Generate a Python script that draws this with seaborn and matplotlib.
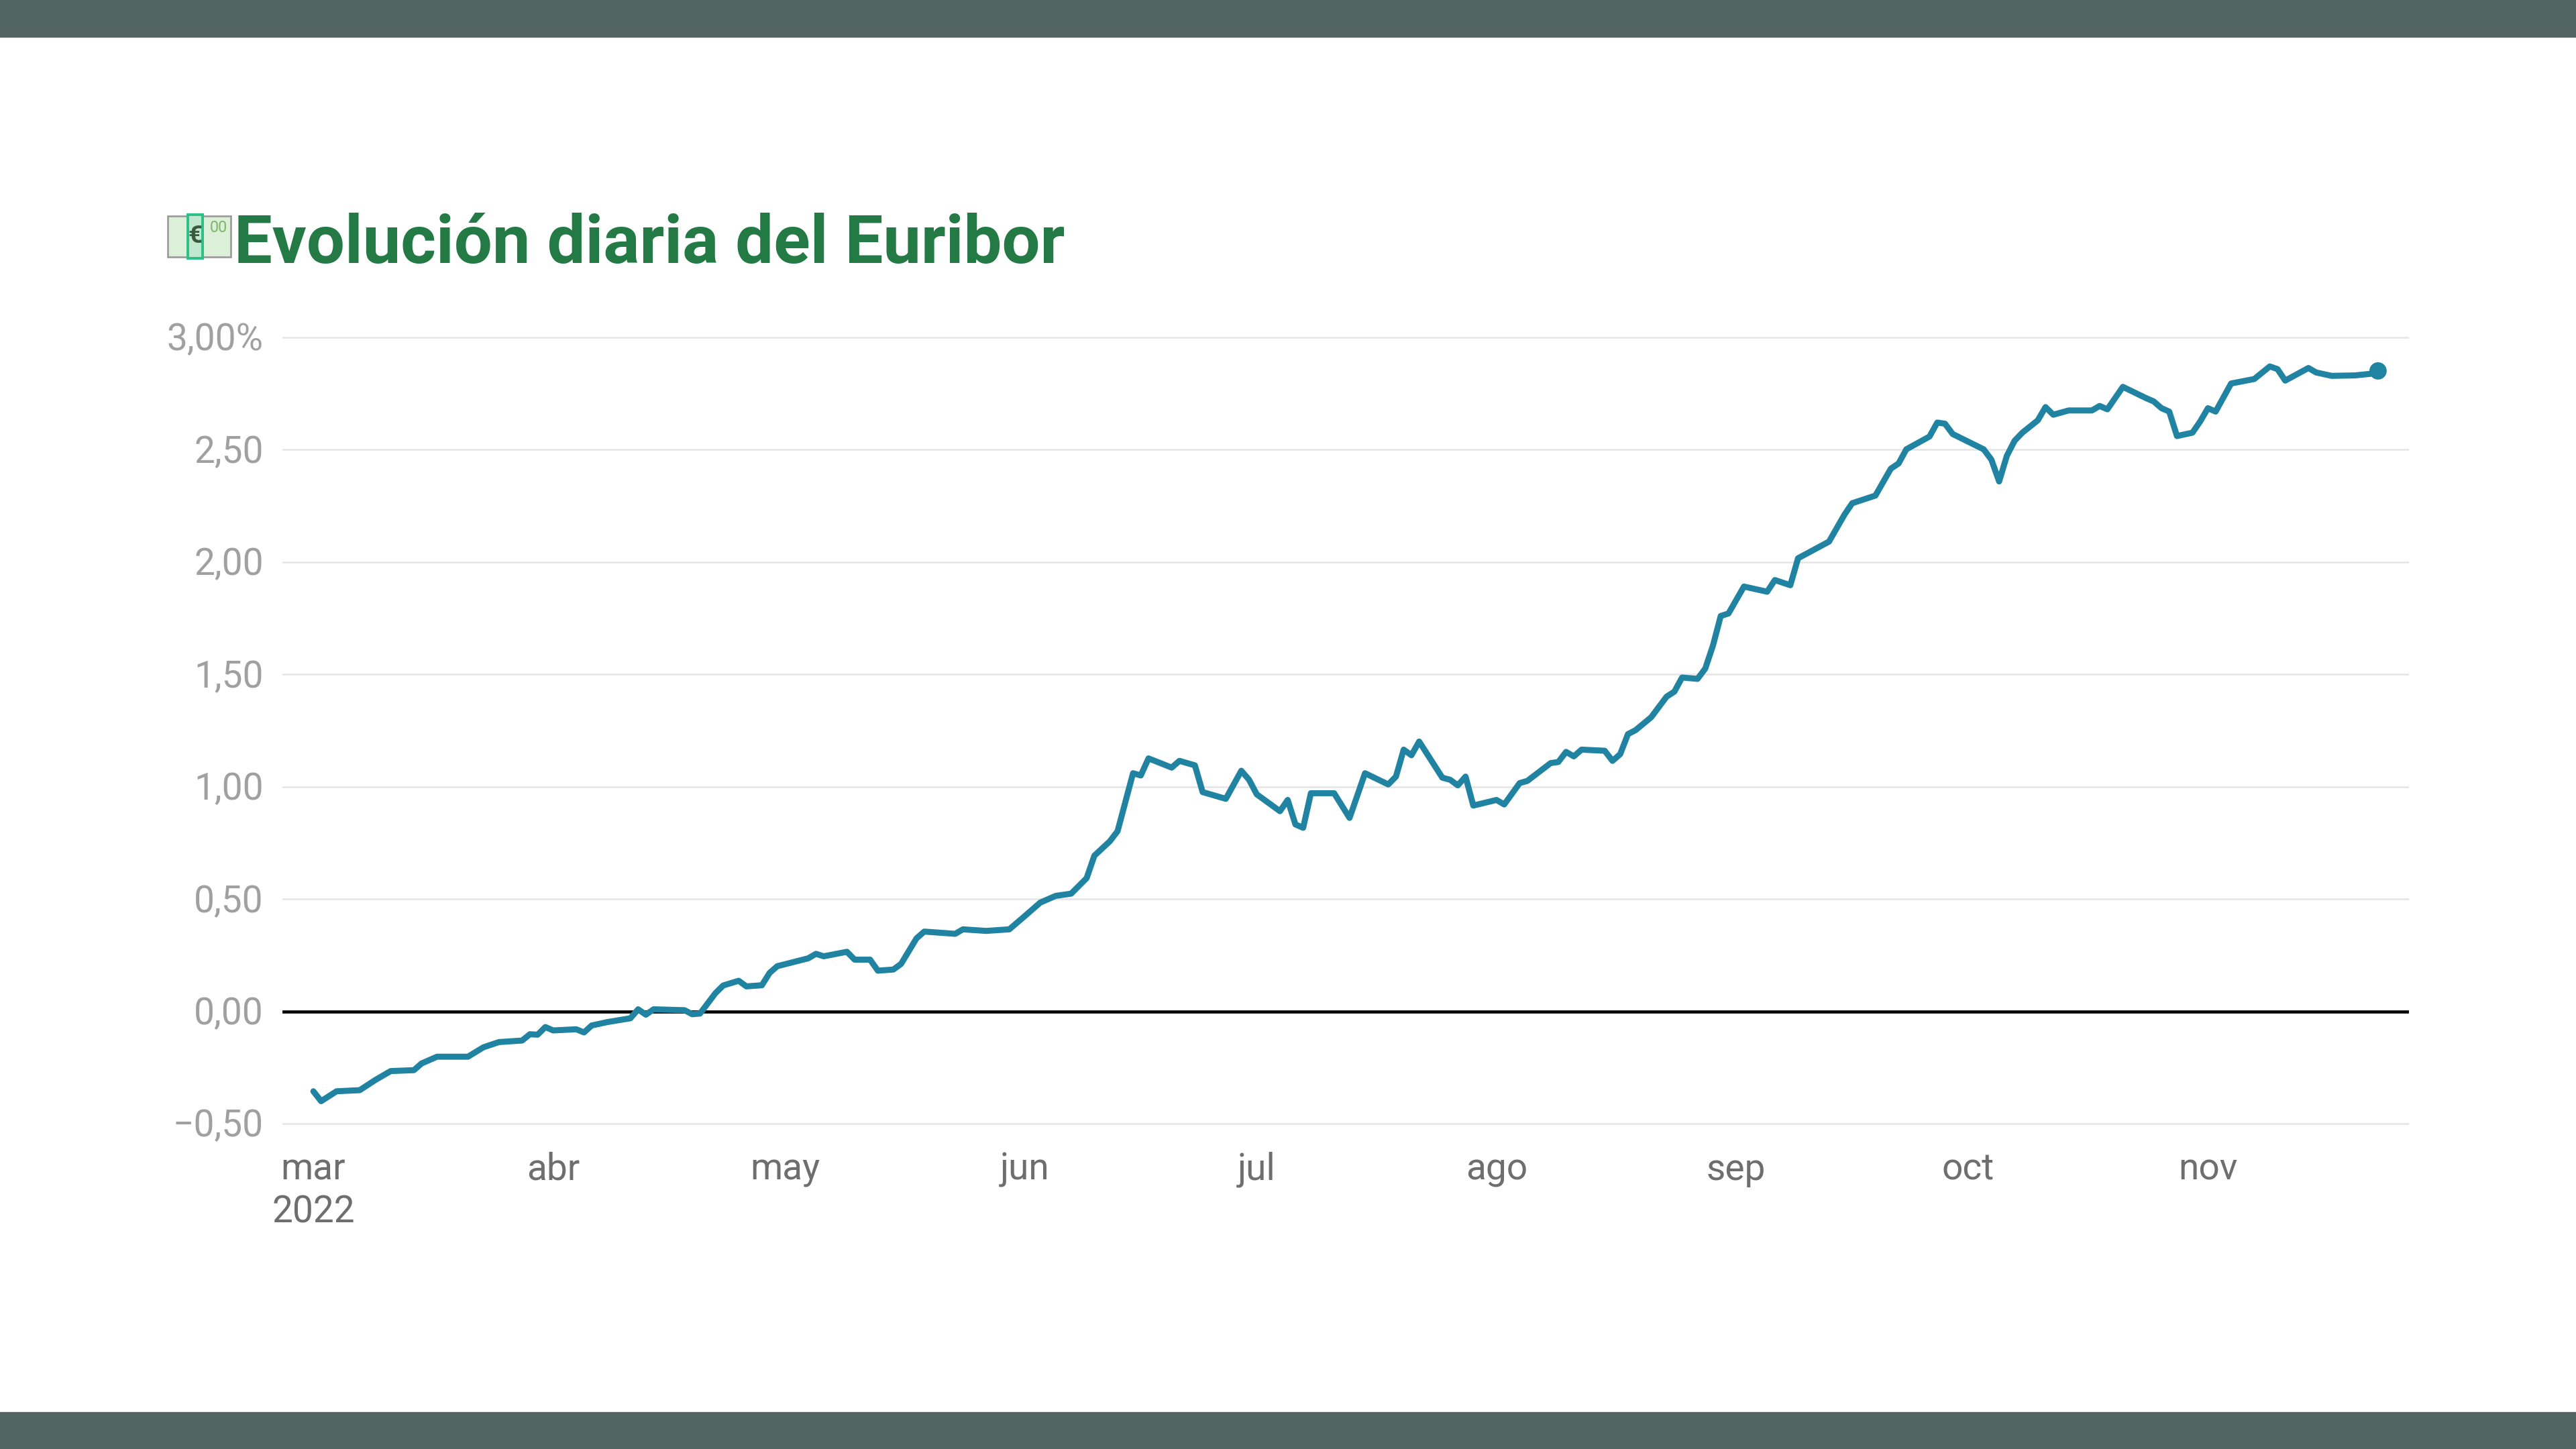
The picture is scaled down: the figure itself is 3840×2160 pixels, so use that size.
import pandas as pd
import matplotlib
import matplotlib.pyplot as plt
import matplotlib.transforms as mtransforms
from matplotlib.patches import Rectangle
import seaborn as sns

matplotlib.use("Agg")
sns.set_theme(style="white")
plt.rcParams["font.family"] = ["Roboto", "DejaVu Sans"]

# Datos (Euribor diario, %)
fechas = [
    "2022-03-01", "2022-03-02", "2022-03-04", "2022-03-07", "2022-03-09", "2022-03-11",
    "2022-03-14", "2022-03-15", "2022-03-17", "2022-03-21", "2022-03-23", "2022-03-25",
    "2022-03-28", "2022-03-29", "2022-03-30", "2022-03-31", "2022-04-01", "2022-04-04",
    "2022-04-05", "2022-04-06", "2022-04-08", "2022-04-11", "2022-04-12", "2022-04-13",
    "2022-04-14", "2022-04-18", "2022-04-19", "2022-04-20", "2022-04-22", "2022-04-23",
    "2022-04-25", "2022-04-26", "2022-04-28", "2022-04-29", "2022-04-30", "2022-05-04",
    "2022-05-05", "2022-05-06", "2022-05-09", "2022-05-10", "2022-05-12", "2022-05-13",
    "2022-05-15", "2022-05-16", "2022-05-18", "2022-05-19", "2022-05-23", "2022-05-24",
    "2022-05-27", "2022-05-30", "2022-06-01", "2022-06-03", "2022-06-05", "2022-06-07",
    "2022-06-09", "2022-06-10", "2022-06-12", "2022-06-13", "2022-06-15", "2022-06-16",
    "2022-06-17", "2022-06-20", "2022-06-21", "2022-06-23", "2022-06-24", "2022-06-27",
    "2022-06-29", "2022-06-30", "2022-07-01", "2022-07-04", "2022-07-05", "2022-07-06",
    "2022-07-07", "2022-07-08", "2022-07-11", "2022-07-13", "2022-07-15", "2022-07-18",
    "2022-07-19", "2022-07-20", "2022-07-21", "2022-07-22", "2022-07-25", "2022-07-26",
    "2022-07-27", "2022-07-28", "2022-07-29", "2022-08-01", "2022-08-02", "2022-08-04",
    "2022-08-05", "2022-08-08", "2022-08-09", "2022-08-10", "2022-08-11", "2022-08-12",
    "2022-08-15", "2022-08-16", "2022-08-17", "2022-08-18", "2022-08-19", "2022-08-21",
    "2022-08-23", "2022-08-24", "2022-08-25", "2022-08-27", "2022-08-28", "2022-08-29",
    "2022-08-30", "2022-08-31", "2022-09-02", "2022-09-05", "2022-09-06", "2022-09-08",
    "2022-09-09", "2022-09-13", "2022-09-15", "2022-09-16", "2022-09-19", "2022-09-21",
    "2022-09-22", "2022-09-23", "2022-09-26", "2022-09-27", "2022-09-28", "2022-09-29",
    "2022-10-03", "2022-10-04", "2022-10-05", "2022-10-06", "2022-10-07", "2022-10-08",
    "2022-10-10", "2022-10-11", "2022-10-12", "2022-10-14", "2022-10-17", "2022-10-18",
    "2022-10-19", "2022-10-21", "2022-10-24", "2022-10-25", "2022-10-26", "2022-10-27",
    "2022-10-28", "2022-10-30", "2022-10-31", "2022-11-01", "2022-11-02", "2022-11-04",
    "2022-11-07", "2022-11-09", "2022-11-10", "2022-11-11", "2022-11-14", "2022-11-15",
    "2022-11-17", "2022-11-20", "2022-11-22", "2022-11-23",
]
euribor = [
    -0.356, -0.400, -0.356, -0.351, -0.306, -0.266,
    -0.262, -0.232, -0.202, -0.202, -0.160, -0.137,
    -0.130, -0.102, -0.104, -0.070, -0.085, -0.080,
    -0.094, -0.063, -0.048, -0.031, 0.009, -0.015,
    0.009, 0.005, -0.013, -0.010, 0.081, 0.115,
    0.136, 0.111, 0.116, 0.171, 0.201, 0.236,
    0.256, 0.245, 0.265, 0.230, 0.230, 0.181,
    0.186, 0.211, 0.325, 0.355, 0.345, 0.365,
    0.358, 0.365, 0.424, 0.484, 0.514, 0.524,
    0.593, 0.693, 0.757, 0.802, 1.060, 1.050,
    1.126, 1.085, 1.115, 1.095, 0.976, 0.946,
    1.071, 1.031, 0.966, 0.891, 0.941, 0.832,
    0.817, 0.971, 0.971, 0.861, 1.060, 1.010,
    1.045, 1.165, 1.140, 1.201, 1.040, 1.031,
    1.006, 1.045, 0.916, 0.941, 0.921, 1.016,
    1.026, 1.105, 1.110, 1.155, 1.135, 1.165,
    1.160, 1.115, 1.145, 1.234, 1.252, 1.309,
    1.401, 1.423, 1.486, 1.480, 1.526, 1.629,
    1.760, 1.771, 1.891, 1.868, 1.920, 1.897,
    2.017, 2.091, 2.211, 2.262, 2.296, 2.416,
    2.439, 2.502, 2.559, 2.621, 2.616, 2.570,
    2.502, 2.456, 2.359, 2.473, 2.540, 2.576,
    2.631, 2.690, 2.656, 2.675, 2.675, 2.695,
    2.680, 2.780, 2.730, 2.715, 2.685, 2.670,
    2.561, 2.576, 2.626, 2.685, 2.670, 2.795,
    2.815, 2.871, 2.859, 2.808, 2.864, 2.844,
    2.829, 2.831, 2.838, 2.851,
]

y_ticks = [-0.5, 0.0, 0.5, 1.0, 1.5, 2.0, 2.5, 3.0]
y_labels = ["\u22120,50", "0,00", "0,50", "1,00", "1,50", "2,00", "2,50", "3,00%"]
meses = ["2022-03-01", "2022-04-01", "2022-05-01", "2022-06-01", "2022-07-01",
         "2022-08-01", "2022-09-01", "2022-10-01", "2022-11-01"]
meses_labels = ["mar\n2022", "abr", "may", "jun", "jul", "ago", "sep", "oct", "nov"]

df = pd.DataFrame({"fecha": pd.to_datetime(fechas), "euribor": euribor})

COLOR_LINEA = "#1f83a1"
COLOR_BARRA = "#526562"

fig = plt.figure(figsize=(16, 9), dpi=240)
fig.patch.set_facecolor("white")

# Barras oscuras arriba y abajo
fig.patches.append(Rectangle((0, 1 - 54 / 2160), 1, 54 / 2160, transform=fig.transFigure,
                             color=COLOR_BARRA, zorder=0))
fig.patches.append(Rectangle((0, 0), 1, 54 / 2160, transform=fig.transFigure,
                             color=COLOR_BARRA, zorder=0))

ax = fig.add_axes([421 / 3840, 1 - 1680 / 2160, (3591 - 421) / 3840, (1680 - 498) / 2160])

sns.lineplot(data=df, x="fecha", y="euribor", ax=ax, color=COLOR_LINEA,
             linewidth=2.7, zorder=3)
for ln in ax.get_lines():
    ln.set_solid_joinstyle("round")
    ln.set_solid_capstyle("round")
sns.scatterplot(data=df.tail(1), x="fecha", y="euribor", ax=ax, color=COLOR_LINEA,
                s=60, edgecolor="none", zorder=4)

ax.set_ylim(-0.515, 3.015)
ax.set_xlim(pd.Timestamp("2022-02-25"), pd.Timestamp("2022-11-27"))
ax.set_yticks(y_ticks)
ax.set_yticklabels(y_labels)
ax.set_xticks(pd.to_datetime(meses))
ax.set_xticklabels(meses_labels, linespacing=1.25)

ax.grid(axis="y", color="#e6e6e6", linewidth=0.8)
ax.grid(axis="x", visible=False)
ax.axhline(0, color="black", linewidth=1.4, zorder=2)
for s in ax.spines.values():
    s.set_visible(False)
ax.tick_params(axis="y", length=0, pad=8.5, labelsize=16.5, labelcolor="#a0a0a0")
ax.tick_params(axis="x", length=0, pad=11, labelsize=16.5, labelcolor="#6e6e6e")
# etiquetas del eje y un poco más abajo, centradas en la línea de rejilla
desplaza = mtransforms.ScaledTranslation(0, -1.2 / 72, fig.dpi_scale_trans)
for lab in ax.get_yticklabels():
    lab.set_verticalalignment("center")
    lab.set_transform(lab.get_transform() + desplaza)
ax.set_xlabel("")
ax.set_ylabel("")

# Icono de billete (emoji 💶 dibujado)
fig.patches.append(Rectangle((250 / 3840, 1 - 383 / 2160), 94 / 3840, 61 / 2160,
                             transform=fig.transFigure, facecolor="#dcefd9",
                             edgecolor="#9a9a9a", linewidth=0.8, zorder=1))
fig.patches.append(Rectangle((280 / 3840, 1 - 385 / 2160), 22 / 3840, 65 / 2160,
                             transform=fig.transFigure, facecolor="#bfe8cf",
                             edgecolor="#2fc08a", linewidth=1.2, zorder=2))
fig.text(291 / 3840, 1 - 352 / 2160, "€", fontsize=11, color="#3a5a40",
         ha="center", va="center", fontweight="bold")
fig.text(326 / 3840, 1 - 340 / 2160, "00", fontsize=7, color="#7fb56a",
         ha="center", va="center")

fig.text(349 / 3840, 1 - 392 / 2160, "Evolución diaria del Euribor", fontsize=30.3,
         fontweight="bold", color="#237a45", ha="left", va="baseline")

plt.savefig("out.png", dpi=240, facecolor="white")
plt.close()
